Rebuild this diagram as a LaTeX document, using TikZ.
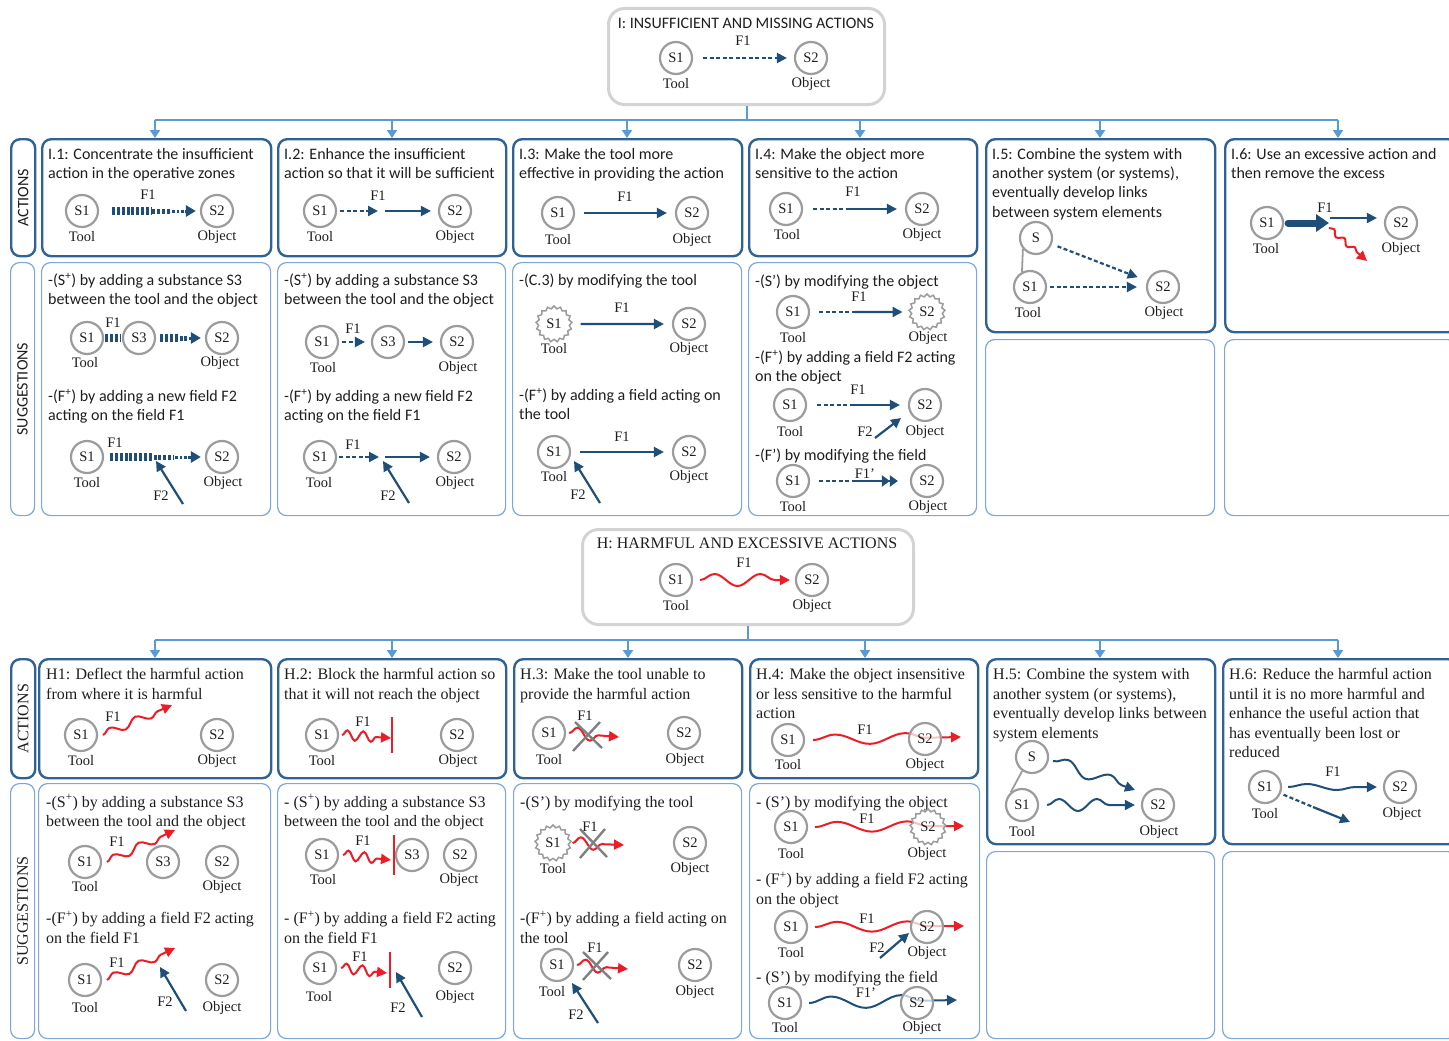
\documentclass[tikz,border=0pt]{standalone}
\usepackage{fontspec}
\setmainfont{Liberation Serif}
\newfontfamily\carl{Carlito}
\usetikzlibrary{arrows.meta,calc,decorations.pathmorphing,shapes.geometric}
\pgfdeclarelayer{background}
\pgfsetlayers{background,main}
\definecolor{fblue}{HTML}{1F4E79}
\definecolor{abcol}{HTML}{2F6393}
\definecolor{sbcol}{HTML}{7BA7D9}
\definecolor{ccol}{HTML}{5B9BD5}
\definecolor{tgray}{HTML}{D3D3D3}
\definecolor{cgray}{HTML}{9C9C9C}
\definecolor{xgray}{HTML}{808080}
\definecolor{hred}{HTML}{EE1C25}
\definecolor{txt}{HTML}{1E1E1E}
\newcommand\isans{\carl\fontsize{16}{19.3}\selectfont}
\newcommand\iser{\fontsize{16}{19.5}\selectfont}
\newcommand\lblfont{\fontsize{14.5}{16}\selectfont}
\newcommand\taperarrow[3]{%
  \path ($(#1.east)+(#3,0)$) coordinate (tA) ($(#2.west)+(-4,0)$) coordinate (tB);
  \draw[fblue, line width=8pt, dash pattern=on 3pt off 1.8pt] (tA) -- ($(tA)!0.46!(tB)$);
  \draw[fblue, line width=5pt, dash pattern=on 3pt off 1.8pt] ($(tA)!0.48!(tB)$) -- ($(tA)!0.70!(tB)$);
  \draw[fblue, line width=3pt, dash pattern=on 2.5pt off 1.8pt, -{Triangle[length=10pt,width=11pt]}] ($(tA)!0.72!(tB)$) -- (tB);
}
\begin{document}
\begin{tikzpicture}[x=1pt,y=-1pt,
  every node/.append style={text=txt},
  nd/.style={circle, draw=cgray, line width=2.2pt, fill=white, minimum size=32pt, inner sep=0pt, font=\lblfont},
  snd/.style={star, star points=17, star point ratio=1.17, draw=cgray, line width=1.5pt, fill=white, minimum size=36pt, inner sep=0pt, font=\lblfont},
  tnd/.style={fill opacity=0.72, text opacity=1},
  lb/.style={inner sep=0pt, font=\lblfont},
  arrow/.style={draw=fblue, line width=2.2pt, -{Triangle[length=10pt,width=10pt]}},
  darrow/.style={arrow, dash pattern=on 4pt off 2.5pt},
  dline/.style={draw=fblue, line width=2.2pt, dash pattern=on 4pt off 2.5pt},
  hwave/.style 2 args={draw=hred, line width=2pt, -{Triangle[length=10pt,width=10pt]}, decorate, decoration={snake, amplitude=#1, segment length=#2, post length=10pt}},
  bwave/.style 2 args={draw=fblue, line width=2pt, -{Triangle[length=10pt,width=10pt]}, decorate, decoration={snake, amplitude=#1, segment length=#2, post length=10pt}},
  bar/.style={draw=hred, line width=2pt},
  xline/.style={draw=xgray, line width=2.4pt},
  link/.style={draw=cgray, line width=1.8pt},
  abox/.style={draw=abcol, line width=2.4pt, rounded corners=9pt, anchor=north west, inner sep=0pt},
  sbox/.style={draw=sbcol, line width=1.2pt, rounded corners=9pt, anchor=north west, inner sep=0pt},
  tbox/.style={draw=tgray, line width=3pt, rounded corners=16pt, anchor=north west, inner sep=0pt},
  conn/.style={draw=ccol, line width=2pt},
  carr/.style={conn, -{Triangle[length=8pt,width=10pt]}},
  ti/.style={anchor=north west, inner sep=0pt, yshift=-1.5pt, align=left, font=\isans, execute at begin node=\strut},
  th/.style={anchor=north west, inner sep=0pt, yshift=-1.5pt, align=left, font=\iser, execute at begin node=\strut},
  vl/.style={rotate=90, inner sep=0pt}
]
\useasboundingbox (0,0) rectangle (1449,1041);

%%%%%%%%%%%%%%%%%%%% I : top
\node[tbox, minimum width=276pt, minimum height=96pt] (IT) at (607,7) {};
\node[font=\isans, inner sep=0pt] (ITt) at (746,23) {I: INSUFFICIENT AND MISSING ACTIONS};
\node[nd] (is1) at (676,58) {S1};
\node[nd] (is2) at (811,58) {S2};
\node[lb] (isT) at (676,84) {Tool};
\node[lb] (isO) at (811,84) {Object};
\node[lb] (isF) at (743,41) {F1};
\draw[darrow, shorten <=10pt, shorten >=7pt] (is1) -- (is2);

%% boxes row I
\node[abox, minimum width=24pt, minimum height=117pt] (IA) at (10,138) {};
\node[sbox, minimum width=24pt, minimum height=253pt] (IS) at (10,262) {};
\node[vl, font=\isans] (IAt) at (IA.center) {ACTIONS};
\node[vl, font=\isans] (ISt) at (IS.center) {SUGGESTIONS};
\node[abox, minimum width=229pt, minimum height=117pt] (A1) at (41,138) {};
\node[abox, minimum width=228pt, minimum height=117pt] (A2) at (277,138) {};
\node[abox, minimum width=229pt, minimum height=117pt] (A3) at (512,138) {};
\node[abox, minimum width=228pt, minimum height=117pt] (A4) at (748,138) {};
\node[abox, minimum width=229pt, minimum height=193pt] (A5) at (985,138) {};
\node[abox, minimum width=232pt, minimum height=193pt] (A6) at (1224,138) {};
\node[sbox, minimum width=229pt, minimum height=253pt] (S1b) at (41,262) {};
\node[sbox, minimum width=228pt, minimum height=253pt] (S2b) at (277,262) {};
\node[sbox, minimum width=229pt, minimum height=253pt] (S3b) at (512,262) {};
\node[sbox, minimum width=228pt, minimum height=253pt] (S4b) at (748,262) {};
\node[sbox, minimum width=229pt, minimum height=176pt] (S5b) at (985,339) {};
\node[sbox, minimum width=232pt, minimum height=176pt] (S6b) at (1224,339) {};

%% bus I
\coordinate (ib1) at (155,120);
\coordinate (ib2) at (392,120);
\coordinate (ib3) at (627,120);
\coordinate (ib4) at (860,120);
\coordinate (ib5) at (1100,120);
\coordinate (ib6) at (1338,120);
\draw[conn] (IT.south) -- (IT.south |- ib1);
\draw[conn] (ib1) -- (ib6);
\foreach \b/\t in {ib1/A1,ib2/A2,ib3/A3,ib4/A4,ib5/A5,ib6/A6}
  \draw[carr] (\b) -- (\b |- \t.north);

%% I.1
\node[ti] (A1t) at (48,146.5) {I.1: Concentrate the insufficient\\action in the operative zones};
\node[nd] (a1s1) at (82,211) {S1};
\node[nd] (a1s2) at (217,211) {S2};
\node[lb] (a1T) at (82,237) {Tool};
\node[lb] (a1O) at (217,237) {Object};
\node[lb] (a1F) at (148,195) {F1};
\taperarrow{a1s1}{a1s2}{13}

%% I.2
\node[ti] (A2t) at (284,146.5) {I.2: Enhance the insufficient\\action so that it will be sufficient};
\node[nd] (a2s1) at (320,211) {S1};
\node[nd] (a2s2) at (455,211) {S2};
\node[lb] (a2T) at (320,237) {Tool};
\node[lb] (a2O) at (455,237) {Object};
\node[lb] (a2F) at (378,196) {F1};
\coordinate (a2m1) at (378,211);
\coordinate (a2m2) at (385,211);
\draw[darrow, shorten <=3pt] (a2s1) -- (a2m1);
\draw[arrow, shorten >=7pt] (a2m2) -- (a2s2);

%% I.3
\node[ti] (A3t) at (519,146.5) {I.3: Make the tool more\\effective in providing the action};
\node[nd] (a3s1) at (558,213) {S1};
\node[nd] (a3s2) at (692,213) {S2};
\node[lb] (a3T) at (558,240) {Tool};
\node[lb] (a3O) at (692,240) {Object};
\node[lb] (a3F) at (625,197) {F1};
\draw[arrow, shorten <=9pt, shorten >=8pt] (a3s1) -- (a3s2);

%% I.4
\node[ti] (A4t) at (755,146.5) {I.4: Make the object more\\sensitive to the action};
\node[nd] (a4s1) at (786,209) {S1};
\node[nd] (a4s2) at (922,209) {S2};
\node[lb] (a4T) at (787,235) {Tool};
\node[lb] (a4O) at (922,235) {Object};
\node[lb] (a4F) at (853,192) {F1};
\coordinate (a4m) at (850,209);
\draw[dline, shorten <=10pt] (a4s1) -- (a4m);
\draw[arrow, shorten >=8pt] (a4m) -- (a4s2);

%% I.5
\node[ti] (A5t) at (992,146.5) {I.5: Combine the system with\\another system (or systems),\\eventually develop links\\between system elements};
\node[nd] (a5s) at (1036,238) {S};
\node[nd] (a5s1) at (1030,287) {S1};
\node[nd] (a5s2) at (1163,287) {S2};
\node[lb] (a5T) at (1028,313) {Tool};
\node[lb] (a5O) at (1164,313) {Object};
\draw[link] (a5s.220) -- (a5s1.118);
\draw[darrow, shorten <=6pt, shorten >=10pt] (a5s) -- (a5s2);
\draw[darrow, shorten <=3pt, shorten >=9pt] (a5s1) -- (a5s2);

%% I.6
\node[ti] (A6t) at (1231,146.5) {I.6: Use an excessive action and\\then remove the excess};
\node[nd] (a6s1) at (1267,223) {S1};
\node[nd] (a6s2) at (1401,223) {S2};
\node[lb] (a6T) at (1266,249) {Tool};
\node[lb] (a6O) at (1401,249) {Object};
\node[lb] (a6F) at (1325,208) {F1};
\coordinate (a6m) at (1329,223);
\coordinate (a6n) at (1330,218);
\coordinate (a6r) at (1329,228);
\coordinate (a6w) at (1367,261);
\draw[fblue, line width=7pt, line cap=round, shorten <=4pt, -{Triangle[length=13pt,width=17pt]}] (a6s1) -- (a6m);
\draw[arrow, line width=2pt, shorten >=7pt] (a6n) -- (a6s2.west |- a6n);
\draw[hwave={2.5pt}{14pt}] (a6r) -- (a6w);

%% S row I, box 1
\node[ti] (S1t1) at (48,271.5) {-(S\textsuperscript{+}) by adding a substance S3\\between the tool and the object};
\node[ti] (S1t2) at (48,387.5) {-(F\textsuperscript{+}) by adding a new field F2\\acting on the field F1};
\node[nd] (p1a) at (87,338) {S1};
\node[nd] (p1b) at (139,338) {S3};
\node[nd] (p1c) at (222,338) {S2};
\node[lb] (p1T) at (85,363) {Tool};
\node[lb] (p1O) at (220,363) {Object};
\node[lb] (p1F) at (113,323) {F1};
\draw[fblue, line width=8pt, dash pattern=on 3pt off 1.8pt, shorten <=1pt, shorten >=1pt] (p1a) -- (p1b);
\taperarrow{p1b}{p1c}{4}
\node[nd] (p2a) at (87,457) {S1};
\node[nd] (p2b) at (222,457) {S2};
\node[lb] (p2T) at (87,483) {Tool};
\node[lb] (p2O) at (223,483) {Object};
\node[lb] (p2F) at (115,443) {F1};
\node[lb] (p2F2) at (161,496) {F2};
\taperarrow{p2a}{p2b}{6}
\coordinate (p2f) at (183,504);
\coordinate (p2g) at (156,461);
\draw[arrow] (p2f) -- (p2g);

%% box 2
\node[ti] (S2t1) at (284,271.5) {-(S\textsuperscript{+}) by adding a substance S3\\between the tool and the object};
\node[ti] (S2t2) at (284,387.5) {-(F\textsuperscript{+}) by adding a new field F2\\acting on the field F1};
\node[nd] (q1a) at (322,342) {S1};
\node[nd] (q1b) at (388,342) {S3};
\node[nd] (q1c) at (457,342) {S2};
\node[lb] (q1T) at (323,368) {Tool};
\node[lb] (q1O) at (458,368) {Object};
\node[lb] (q1F) at (353,329) {F1};
\draw[darrow, shorten <=3pt, shorten >=6pt] (q1a) -- (q1b);
\draw[arrow, shorten <=3pt, shorten >=7pt] (q1b) -- (q1c);
\node[nd] (q2a) at (320,457) {S1};
\node[nd] (q2b) at (454,457) {S2};
\node[lb] (q2T) at (319,483) {Tool};
\node[lb] (q2O) at (455,483) {Object};
\node[lb] (q2F) at (353,445) {F1};
\node[lb] (q2F2) at (388,496) {F2};
\coordinate (q2m1) at (379,457);
\coordinate (q2m2) at (385,457);
\draw[darrow, shorten <=2pt] (q2a) -- (q2m1);
\draw[arrow, shorten >=7pt] (q2m2) -- (q2b);
\coordinate (q2f) at (409,503);
\coordinate (q2g) at (383,461);
\draw[arrow] (q2f) -- (q2g);

%% box 3
\node[ti] (S3t1) at (519,270.5) {-(C.3) by modifying the tool};
\node[ti] (S3t2) at (519,386.5) {-(F\textsuperscript{+}) by adding a field acting on\\the tool};
\node[snd] (r1a) at (554,324) {S1};
\node[nd] (r1b) at (689,324) {S2};
\node[lb] (r1T) at (554,349) {Tool};
\node[lb] (r1O) at (689,349) {Object};
\node[lb] (r1F) at (622,308) {F1};
\draw[arrow, shorten <=9pt, shorten >=8pt] (r1a) -- (r1b);
\node[nd] (r2a) at (554,452) {S1};
\node[nd] (r2b) at (689,452) {S2};
\node[lb] (r2T) at (554,477) {Tool};
\node[lb] (r2O) at (689,477) {Object};
\node[lb] (r2F) at (622,437) {F1};
\node[lb] (r2F2) at (578,495) {F2};
\draw[arrow, shorten <=9pt, shorten >=8pt] (r2a) -- (r2b);
\coordinate (r2f) at (600,503);
\coordinate (r2g) at (574,461);
\draw[arrow] (r2f) -- (r2g);

%% box 4
\node[ti] (S4t1) at (755,271.5) {-(S’) by modifying the object};
\node[ti] (S4t2) at (755,348.5) {-(F\textsuperscript{+}) by adding a field F2 acting\\on the object};
\node[ti] (S4t3) at (755,445.5) {-(F’) by modifying the field};
\node[nd] (u1a) at (793,312) {S1};
\node[snd] (u1b) at (927,312) {S2};
\node[lb] (u1T) at (793,338) {Tool};
\node[lb] (u1O) at (928,338) {Object};
\node[lb] (u1F) at (859,297) {F1};
\coordinate (u1m) at (855,312);
\draw[dline, shorten <=9pt] (u1a) -- (u1m);
\draw[arrow, shorten >=7pt] (u1m) -- (u1b);
\node[nd] (u2a) at (790,405) {S1};
\node[nd] (u2b) at (925,405) {S2};
\node[lb] (u2T) at (790,432) {Tool};
\node[lb] (u2O) at (925,432) {Object};
\node[lb] (u2F) at (858,390) {F1};
\node[lb] (u2F2) at (865,432) {F2};
\coordinate (u2m) at (853,405);
\draw[dline, shorten <=10pt] (u2a) -- (u2m);
\draw[arrow, shorten >=8pt] (u2m) -- (u2b);
\coordinate (u2f) at (875,438);
\coordinate (u2g) at (901,418);
\draw[arrow] (u2f) -- (u2g);
\node[nd] (u3a) at (793,481) {S1};
\node[nd] (u3b) at (927,481) {S2};
\node[lb] (u3T) at (793,507) {Tool};
\node[lb] (u3O) at (928,507) {Object};
\node[lb] (u3F) at (865,474) {F1'};
\coordinate (u3m) at (853,481);
\draw[dline, shorten <=9pt] (u3a) -- (u3m);
\draw[fblue, line width=2.2pt, shorten >=12pt, -{Triangle[length=8pt,width=11pt] Triangle[length=8pt,width=11pt]}] (u3m) -- (u3b);

%%%%%%%%%%%%%%%%%%%% H : top
\node[tbox, minimum width=331pt, minimum height=95pt] (HT) at (581,528) {};
\node[font=\iser, inner sep=0pt] (HTt) at (747,543) {H: HARMFUL AND EXCESSIVE ACTIONS};
\node[nd] (hs1) at (676,580) {S1};
\node[nd] (hs2) at (812,580) {S2};
\node[lb] (hsT) at (676,606) {Tool};
\node[lb] (hsO) at (812,606) {Object};
\node[lb] (hsF) at (744,563) {F1};
\draw[hwave={6pt}{46pt}] ($(hs1.east)+(7,0)$) -- ($(hs2.west)+(-5,0)$);

%% boxes row H
\node[abox, minimum width=24pt, minimum height=119pt] (HA) at (10,658) {};
\node[sbox, minimum width=24pt, minimum height=255pt] (HS) at (10,783) {};
\node[vl, font=\iser] (HAt) at (HA.center) {ACTIONS};
\node[vl, font=\iser] (HSt) at (HS.center) {SUGGESTIONS};
\node[abox, minimum width=232pt, minimum height=119pt] (B1) at (38,658) {};
\node[abox, minimum width=228pt, minimum height=119pt] (B2) at (277,658) {};
\node[abox, minimum width=228pt, minimum height=119pt] (B3) at (513,658) {};
\node[abox, minimum width=228pt, minimum height=119pt] (B4) at (749,658) {};
\node[abox, minimum width=228pt, minimum height=185pt] (B5) at (986,658) {};
\node[abox, minimum width=234pt, minimum height=185pt] (B6) at (1222,658) {};
\node[sbox, minimum width=232pt, minimum height=255pt] (T1) at (38,783) {};
\node[sbox, minimum width=228pt, minimum height=255pt] (T2) at (277,783) {};
\node[sbox, minimum width=228pt, minimum height=255pt] (T3) at (513,783) {};
\node[sbox, minimum width=230pt, minimum height=255pt] (T4) at (749,783) {};
\node[sbox, minimum width=228pt, minimum height=187pt] (T5) at (986,851) {};
\node[sbox, minimum width=234pt, minimum height=187pt] (T6) at (1222,851) {};

%% bus H
\coordinate (hb1) at (155,640);
\coordinate (hb2) at (392,640);
\coordinate (hb3) at (628,640);
\coordinate (hb4) at (865,640);
\coordinate (hb5) at (1100,640);
\coordinate (hb6) at (1338,640);
\draw[conn] (HT.south) -- (HT.south |- hb1);
\draw[conn] (hb1) -- (hb6);
\foreach \b/\t in {hb1/B1,hb2/B2,hb3/B3,hb4/B4,hb5/B5,hb6/B6}
  \draw[carr] (\b) -- (\b |- \t.north);

%% H1
\node[th] (B1t) at (46,667) {H1: Deflect the harmful action\\from where it is harmful};
\node[nd] (c1) at (81,735) {S1};
\node[nd] (c2) at (217,735) {S2};
\node[lb] (c1T) at (81,761) {Tool};
\node[lb] (c2O) at (217,761) {Object};
\node[lb] (c1F) at (113,717) {F1};
\coordinate (c1e) at (172,705);
\draw[hwave={4pt}{28pt}] ($(c1.east)+(5,0)$) -- (c1e);

%% H.2
\node[th] (B2t) at (284,667) {H.2: Block the harmful action so\\that it will not reach the object};
\node[nd] (d1) at (322,735) {S1};
\node[nd] (d2) at (457,735) {S2};
\node[lb] (d1T) at (322,761) {Tool};
\node[lb] (d2O) at (458,761) {Object};
\node[lb] (d1F) at (363,722) {F1};
\coordinate (d1e) at (391,738);
\coordinate (d1b1) at (392,717);
\coordinate (d1b2) at (392,753);
\draw[hwave={5pt}{16pt}] ($(d1.east)+(3,0)$) -- (d1e);
\draw[bar] (d1b1) -- (d1b2);

%% H.3
\node[th] (B3t) at (520,667) {H.3: Make the tool unable to\\provide the harmful action};
\node[nd] (e1) at (549,733) {S1};
\node[nd] (e2) at (684,733) {S2};
\node[lb] (e1T) at (549,760) {Tool};
\node[lb] (e2O) at (685,760) {Object};
\node[lb] (e1F) at (585,716) {F1};
\coordinate (e1e) at (619,737);
\draw[hwave={6pt}{26pt}] ($(e1.east)+(3,0)$) -- (e1e);
\coordinate (ex1) at (573,751);
\coordinate (ex2) at (600,722);
\coordinate (ex3) at (575,722);
\coordinate (ex4) at (602,748);
\draw[xline] (ex1) -- (ex2);
\draw[xline] (ex3) -- (ex4);

%% H.4
\node[th] (B4t) at (756,667) {H.4: Make the object insensitive\\or less sensitive to the harmful\\action};
\node[nd] (f1) at (788,740) {S1};
\node[nd, tnd] (f2) at (925,739) {S2};
\node[lb] (f1T) at (788,765) {Tool};
\node[lb] (f2O) at (925,765) {Object};
\node[lb] (f1F) at (865,730) {F1};
\coordinate (f1e) at (961,737);
\begin{pgfonlayer}{background}
\draw[hwave={5pt}{70pt}] ($(f1.east)+(8,0)$) -- (f1e);
\end{pgfonlayer}

%% H.5
\node[th] (B5t) at (993,667) {H.5: Combine the system with\\another system (or systems),\\eventually develop links between\\system elements};
\node[nd] (g0) at (1032,757) {S};
\node[nd] (g1) at (1022,805) {S1};
\node[nd] (g2) at (1158,805) {S2};
\node[lb] (g1T) at (1022,832) {Tool};
\node[lb] (g2O) at (1159,832) {Object};
\draw[link] (g0.235) -- (g1.131);
\coordinate (g0e) at (1135,790);
\draw[bwave={6pt}{45pt}] ($(g0.east)+(4,4)$) -- (g0e);
\draw[bwave={6pt}{38pt}] ($(g1.east)+(8,0)$) -- ($(g2.west)+(-6,0)$);

%% H.6
\node[th] (B6t) at (1229,667) {H.6: Reduce the harmful action\\until it is no more harmful and\\enhance the useful action that\\has eventually been lost or\\reduced};
\node[nd] (k1) at (1265,787) {S1};
\node[nd] (k2) at (1400,787) {S2};
\node[lb] (k1T) at (1265,814) {Tool};
\node[lb] (k2O) at (1402,814) {Object};
\node[lb] (k1F) at (1333,772) {F1};
\draw[bwave={3pt}{60pt}] ($(k1.east)+(6,0)$) -- ($(k2.west)+(-6,0)$);
\coordinate (k1m) at (1313,807);
\coordinate (k1e) at (1350,822);
\draw[dline, shorten <=3pt] (k1) -- (k1m);
\draw[arrow] (k1m) -- (k1e);

%% T1
\node[th] (T1t1) at (46,792.7) {-(S\textsuperscript{+}) by adding a substance S3\\between the tool and the object};
\node[th] (T1t2) at (46,909.3) {-(F\textsuperscript{+}) by adding a field F2 acting\\on the field F1};
\node[nd] (m1) at (85,862) {S1};
\node[nd] (m3) at (163,862) {S3};
\node[nd] (m2) at (222,862) {S2};
\node[lb] (m1T) at (85,887) {Tool};
\node[lb] (m2O) at (222,887) {Object};
\node[lb] (m1F) at (117,842) {F1};
\coordinate (m1e) at (175,830);
\draw[hwave={4pt}{28pt}] ($(m1.east)+(5,0)$) -- (m1e);
\node[nd] (n1) at (85,980) {S1};
\node[nd] (n2) at (222,980) {S2};
\node[lb] (n1T) at (85,1008) {Tool};
\node[lb] (n2O) at (222,1008) {Object};
\node[lb] (n1F) at (117,963) {F1};
\node[lb] (n1F2) at (165,1002) {F2};
\coordinate (n1e) at (175,948);
\draw[hwave={4pt}{28pt}] ($(n1.east)+(5,0)$) -- (n1e);
\coordinate (n1f) at (186,1011);
\coordinate (n1g) at (160,967);
\draw[arrow] (n1f) -- (n1g);

%% T2
\node[th] (T2t1) at (284,792.7) {- (S\textsuperscript{+}) by adding a substance S3\\between the tool and the object};
\node[th] (T2t2) at (284,909.3) {- (F\textsuperscript{+}) by adding a field F2 acting\\on the field F1};
\node[nd] (o1) at (322,855) {S1};
\node[nd] (o3) at (412,855) {S3};
\node[nd] (o2) at (460,855) {S2};
\node[lb] (o1T) at (323,880) {Tool};
\node[lb] (o2O) at (459,880) {Object};
\node[lb] (o1F) at (363,841) {F1};
\coordinate (o1e) at (391,860);
\coordinate (o1b1) at (394,835);
\coordinate (o1b2) at (394,875);
\draw[hwave={5pt}{16pt}] ($(o1.east)+(4,0)$) -- (o1e);
\draw[bar] (o1b1) -- (o1b2);
\node[nd] (w1) at (320,968) {S1};
\node[nd] (w2) at (455,968) {S2};
\node[lb] (w1T) at (319,997) {Tool};
\node[lb] (w2O) at (455,997) {Object};
\node[lb] (w1F) at (360,957) {F1};
\node[lb] (w1F2) at (398,1008) {F2};
\coordinate (w1e) at (387,973);
\coordinate (w1b1) at (390,952);
\coordinate (w1b2) at (390,988);
\draw[hwave={5pt}{16pt}] ($(w1.east)+(4,0)$) -- (w1e);
\draw[bar] (w1b1) -- (w1b2);
\coordinate (w1f) at (422,1017);
\coordinate (w1g) at (396,972);
\draw[arrow] (w1f) -- (w1g);

%% T3
\node[th] (T3t1) at (520,792) {-(S’) by modifying the tool};
\node[th] (T3t2) at (520,909.3) {-(F\textsuperscript{+}) by adding a field acting on\\the tool};
\node[snd] (x1) at (553,843) {S1};
\node[nd] (x2) at (690,843) {S2};
\node[lb] (x1T) at (553,869) {Tool};
\node[lb] (x2O) at (690,869) {Object};
\node[lb] (x1F) at (590,827) {F1};
\coordinate (x1e) at (624,845);
\draw[hwave={6pt}{26pt}] ($(x1.east)+(2,0)$) -- (x1e);
\coordinate (xx1) at (580,858);
\coordinate (xx2) at (605,829);
\coordinate (xx3) at (580,829);
\coordinate (xx4) at (607,857);
\draw[xline] (xx1) -- (xx2);
\draw[xline] (xx3) -- (xx4);
\node[nd] (y1) at (557,965) {S1};
\node[nd] (y2) at (695,965) {S2};
\node[lb] (y1T) at (552,992) {Tool};
\node[lb] (y2O) at (695,992) {Object};
\node[lb] (y1F) at (595,948) {F1};
\node[lb] (y1F2) at (576,1015) {F2};
\coordinate (y1e) at (628,969);
\draw[hwave={6pt}{26pt}] ($(y1.east)+(3,0)$) -- (y1e);
\coordinate (yx1) at (583,980);
\coordinate (yx2) at (608,952);
\coordinate (yx3) at (583,952);
\coordinate (yx4) at (611,979);
\draw[xline] (yx1) -- (yx2);
\draw[xline] (yx3) -- (yx4);
\coordinate (y1f) at (598,1023);
\coordinate (y1g) at (572,983);
\draw[arrow] (y1f) -- (y1g);

%% T4
\node[th] (T4t1) at (756,792) {- (S’) by modifying the object};
\node[th] (T4t2) at (756,870.3) {- (F\textsuperscript{+}) by adding a field F2 acting\\on the object};
\node[th] (T4t3) at (756,967) {- (S’) by modifying the field};
\node[nd] (z1) at (791,827) {S1};
\node[snd, tnd] (z2) at (928,827) {S2};
\node[lb] (z1T) at (791,854) {Tool};
\node[lb] (z2O) at (927,854) {Object};
\node[lb] (z1F) at (867,819) {F1};
\coordinate (z1e) at (964,826);
\node[nd] (zz1) at (791,927) {S1};
\node[nd, tnd] (zz2) at (927,927) {S2};
\node[lb] (zz1T) at (791,953) {Tool};
\node[lb] (zz2O) at (927,953) {Object};
\node[lb] (zz1F) at (867,919) {F1};
\node[lb] (zz1F2) at (877,948) {F2};
\coordinate (zz1e) at (964,926);
\node[nd] (zy1) at (785,1003) {S1};
\node[nd, tnd] (zy2) at (917,1003) {S2};
\node[lb] (zy1T) at (785,1028) {Tool};
\node[lb] (zy2O) at (922,1028) {Object};
\node[lb] (zy1F) at (866,993) {F1'};
\coordinate (zy1e) at (957,1000);
\begin{pgfonlayer}{background}
\draw[hwave={5pt}{70pt}] ($(z1.east)+(7,0)$) -- (z1e);
\draw[hwave={5pt}{70pt}] ($(zz1.east)+(7,0)$) -- (zz1e);
\draw[bwave={6pt}{70pt}] ($(zy1.east)+(7,0)$) -- (zy1e);
\end{pgfonlayer}
\coordinate (zz1f) at (880,958);
\coordinate (zz1g) at (909,933);
\draw[arrow] (zz1f) -- (zz1g);
\end{tikzpicture}
\end{document}
